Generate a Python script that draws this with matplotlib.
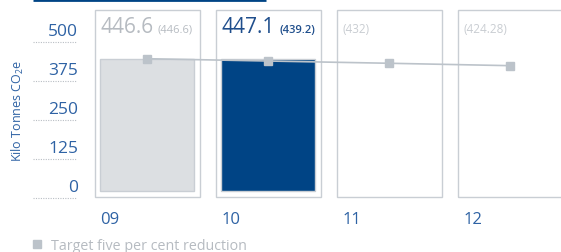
import matplotlib
matplotlib.use("Agg")
import matplotlib.pyplot as plt
from matplotlib.patches import Rectangle
from matplotlib.lines import Line2D

plt.rcParams["font.family"] = ["Open Sans", "DejaVu Sans"]
plt.rcParams["mathtext.fontset"] = "custom"
plt.rcParams["mathtext.rm"] = "Open Sans"
plt.rcParams["mathtext.it"] = "Open Sans"

years = ["09", "10", "11", "12"]
actual = [446.6, 447.1, None, None]
target = [446.6, 439.2, 432, 424.28]
target_labels = ["(446.6)", "(439.2)", "(432)", "(424.28)"]
y_ticks = [0, 125, 250, 375, 500]

BLUE = "#1f4e8c"
TICK_BLUE = "#2e62a4"
GREY_TXT = "#b6bbc1"
GREY_LINE = "#bcc3ca"
BOX_EDGE = "#c9ced4"
BAR_GREY = "#dcdfe2"

fig = plt.figure(figsize=(5.61, 2.53), dpi=100)
ax = fig.add_axes([0, 0, 1, 1])
ax.set_xlim(-1.215, 3.421)
ax.set_ylim(-173, 638)
ax.axis("off")

box_w = 0.868
bar_w = 0.777
pad = 22
box_top = 600
dx = 6 / 121

for i, yr in enumerate(years):
    left = i - box_w / 2
    ax.add_patch(Rectangle((left, 3), box_w, box_top, fill=False,
                           edgecolor=BOX_EDGE, lw=1.0, zorder=1))
    if actual[i] is not None:
        fc = BAR_GREY if i == 0 else "#004485"
        ax.bar(i, actual[i] - pad, bottom=pad, width=bar_w, color=fc,
               edgecolor=BOX_EDGE, lw=1.0, zorder=2)
        big_col = GREY_TXT if i == 0 else BLUE
        t = ax.text(left + dx, 532, f"{actual[i]}", fontsize=15,
                    color=big_col, ha="left", va="baseline")
        small_col = GREY_TXT if i == 0 else BLUE
        ax.annotate(target_labels[i], xy=(1, 0), xycoords=t,
                    xytext=(3, 1.5), textcoords="offset points",
                    fontsize=8, color=small_col, ha="left", va="bottom",
                    fontweight="normal" if i == 0 else "semibold")
    else:
        ax.text(left + dx, 532, target_labels[i], fontsize=8.5,
                color="#c9cdd2", ha="left", va="baseline")
    ax.text(left + dx, -80, yr, fontsize=12, color=TICK_BLUE,
            ha="left", va="baseline")

# target line
ax.plot(range(len(target)), target, color=GREY_LINE, lw=1.2,
        marker="s", ms=6, zorder=3)

# y scale with dotted rules
for v in y_ticks:
    ax.plot([-0.942, -0.579], [v, v], color="#b9bec4", lw=0.8,
            ls=(0, (1, 1.2)))
    ax.annotate(str(v), xy=(-0.57, v), xytext=(0, 2),
                textcoords="offset points", fontsize=12.5,
                color=TICK_BLUE, ha="right", va="bottom")

ax.text(-1.066, 282, r"Kilo Tonnes CO$_2$e", rotation=90, fontsize=9,
        color=TICK_BLUE, ha="center", va="center")

# header rule
ax.plot([-0.942, 0.983], [634, 634], color="#004485", lw=2, solid_capstyle="butt")

handle = Line2D([], [], ls="none", marker="s", ms=6, color=GREY_LINE)
ax.legend([handle], ["Target five per cent reduction"], loc="lower left",
          bbox_to_anchor=(0.056, -0.004), frameon=False, fontsize=10.3,
          labelcolor=GREY_TXT, handlelength=0.8, handletextpad=0.55,
          borderaxespad=0, borderpad=0)

fig.savefig("out.png", dpi=100)
